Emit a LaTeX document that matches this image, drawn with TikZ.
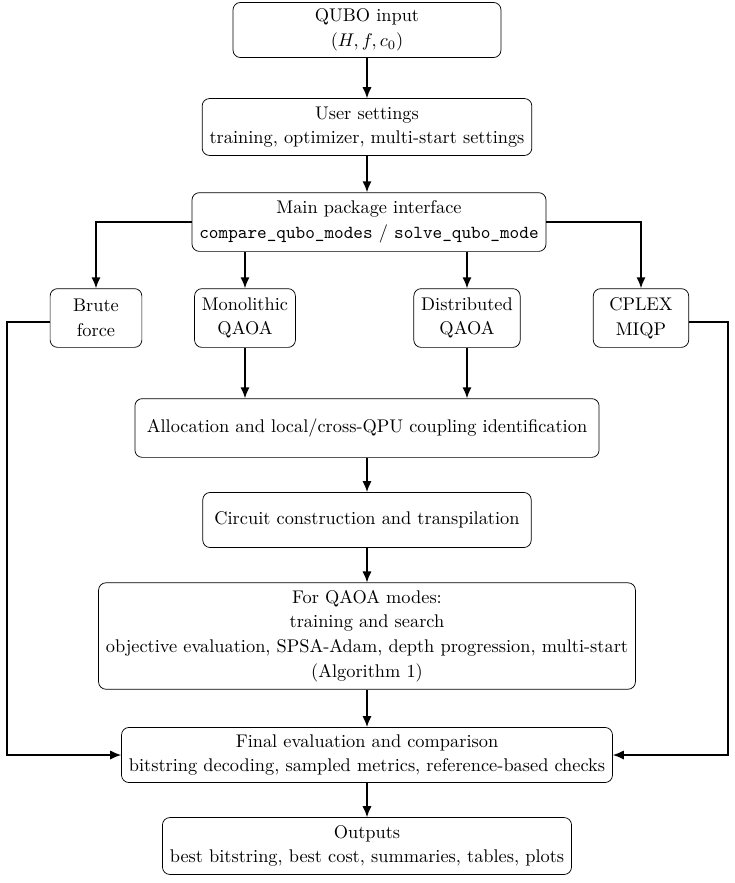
\documentclass[tikz,border=0pt]{standalone}
\usepackage{tikz}
\usetikzlibrary{arrows.meta}

\begin{document}
\begin{tikzpicture}[x=0.545pt,y=-0.545pt,
	box/.style={draw, rounded corners=4pt, align=center, inner xsep=4pt, inner ysep=3pt,
		font={\normalsize\linespread{1.12}\selectfont}},
	arr/.style={-{Latex[length=6pt,width=5pt]}, line width=0.8pt}]

	% ---- frame

	\useasboundingbox (0,0) rectangle (735,883);

	% ---- boxes

	\node[box, minimum width=146pt, minimum height=30pt] (input) at (367,30) {QUBO input\\$(H,f,c_0)$};
	\node[box, minimum height=31pt] (settings) at (367,127) {User settings\\training, optimizer, multi-start settings};
	\node[box, minimum height=32pt] (main) at (369,222) {Main package interface\\\texttt{compare\_qubo\_modes} / \texttt{solve\_qubo\_mode}};

	\node[box, minimum width=50pt, minimum height=32pt] (brute) at (96,318) {Brute\\force};
	\node[box, minimum height=32pt] (mono) at (245,318) {Monolithic\\QAOA};
	\node[box, minimum height=32pt] (dist) at (467,318) {Distributed\\QAOA};
	\node[box, minimum width=52pt, minimum height=32pt] (cplex) at (641,318) {CPLEX\\MIQP};

	\node[box, minimum width=253pt, minimum height=32pt] (alloc) at (367,428) {Allocation and local/cross-QPU coupling identification};
	\node[box, minimum width=179pt, minimum height=30pt] (circ) at (367,520) {Circuit construction and transpilation};
	\node[box, minimum height=58pt] (train) at (367,636) {For QAOA modes:\\training and search\\objective evaluation, SPSA-Adam, depth progression, multi-start\\(Algorithm 1)};
	\node[box, minimum height=30pt] (final) at (367,755) {Final evaluation and comparison\\bitstring decoding, sampled metrics, reference-based checks};
	\node[box, minimum height=31pt] (out) at (367,846) {Outputs\\best bitstring, best cost, summaries, tables, plots};

	% ---- trunk

	\draw[arr] (input) -- (settings);
	\draw[arr] (settings.south) -- (settings.south |- main.north);

	% ---- branches

	\draw[arr] (main.west) -| (brute.north);
	\draw[arr] (main.east) -| (cplex.north);
	\draw[arr] (main.south -| mono.north) -- (mono.north);
	\draw[arr] (main.south -| dist.north) -- (dist.north);

	\draw[arr] (mono.south) -- (mono.south |- alloc.north);
	\draw[arr] (dist.south) -- (dist.south |- alloc.north);

	\draw[arr] (alloc) -- (circ);
	\draw[arr] (circ) -- (train);
	\draw[arr] (train) -- (final);
	\draw[arr] (final) -- (out);

	% ---- bypasses

	\coordinate (lb) at (7,322);
	\coordinate (rb) at (728,322);
	\draw[arr] (brute.west |- lb) -- (lb) |- (final.west);
	\draw[arr] (cplex.east |- rb) -- (rb) |- (final.east);

\end{tikzpicture}
\end{document}
